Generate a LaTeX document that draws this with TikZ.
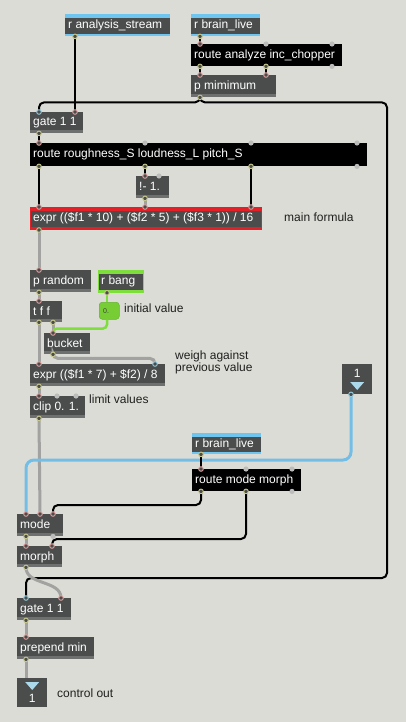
\documentclass[tikz,border=0pt]{standalone}
\usepackage{fontspec}
\setmainfont{Liberation Sans}
\usetikzlibrary{calc}
\definecolor{bg}{RGB}{220,220,214}
\definecolor{boxg}{RGB}{74,77,76}
\definecolor{strip}{RGB}{110,112,111}
\definecolor{rcvblue}{RGB}{110,198,240}
\definecolor{cordblue}{RGB}{115,190,230}
\definecolor{cordgrey}{RGB}{162,162,160}
\definecolor{lime}{RGB}{125,222,60}
\definecolor{numgreen}{RGB}{118,206,52}
\definecolor{exprred}{RGB}{226,32,40}
\definecolor{inpink}{RGB}{225,160,160}
\definecolor{outyel}{RGB}{200,200,140}
\definecolor{incyan}{RGB}{150,205,225}
\definecolor{dotgrey}{RGB}{188,188,188}
\definecolor{triblue}{RGB}{170,218,236}
\newcommand\mxobj[7]{\node[obj,minimum width=#4pt,minimum height=#5pt,#6] (#1) at (#2,#3) {};
  \node[objtxt] (#1-t) at ($(#1.west)+(3,-1)$) {#7};}
\newcommand\mxin[3]{\filldraw[fill=boxg,draw=#3,line width=0.9pt] ($(#1.north west)+(#2,0)$) circle (2.3pt);}
\newcommand\mxout[3]{\filldraw[fill=boxg,draw=#3,line width=0.9pt] ($(#1.south west)+(#2,0)$) circle (2.3pt);}
\newcommand\mxgin[2]{\fill[dotgrey] ($(#1.north west)+(#2,0)$) circle (2.6pt);}
\newcommand\mxgout[2]{\fill[dotgrey] ($(#1.south west)+(#2,0)$) circle (2.6pt);}
\begin{document}
\begin{tikzpicture}[x=1pt,y=-1pt,
  obj/.style={anchor=north west, fill=boxg, inner sep=0pt, draw=none,
    path picture={\fill[strip] ([yshift=3pt]path picture bounding box.south west) rectangle (path picture bounding box.south east);}},
  blackobj/.style={fill=black, path picture={}},
  rcv/.style={path picture={\fill[#1] (path picture bounding box.north west) rectangle ([yshift=-4pt]path picture bounding box.north east);
      \fill[#1] ([yshift=2pt]path picture bounding box.south west) rectangle (path picture bounding box.south east);}},
  redframe/.style={draw=exprred, line width=1pt, path picture={\fill[exprred] (path picture bounding box.north west) rectangle ([yshift=-3pt]path picture bounding box.north east);
      \fill[exprred] ([yshift=3pt]path picture bounding box.south west) rectangle (path picture bounding box.south east);}},
  objtxt/.style={anchor=west, inner sep=0pt, text=white, font=\fontsize{12}{14}\selectfont, text height=8.6pt, text depth=0pt},
  comment/.style={anchor=west, inner sep=0pt, text=black!88, font=\fontsize{12}{14}\selectfont, text height=8.6pt, text depth=0pt},
  blk/.style={draw=black, line width=2pt, rounded corners=5pt},
  gry/.style={draw=cordgrey, line width=3pt, rounded corners=5pt},
  blu/.style={draw=cordblue, line width=3pt, rounded corners=8pt},
  grn/.style={draw=lime, line width=2.5pt, rounded corners=4pt},
  iobox/.style={anchor=north west, fill=boxg, inner sep=0pt, minimum width=30pt, minimum height=30pt},
]
\fill[bg] (0,0) rectangle (406,722);
\useasboundingbox (0,0) rectangle (406,722);

% ---------- objects ----------
\mxobj{ras}{65}{14}{105}{22}{rcv=rcvblue}{r analysis\_stream}
\mxobj{rbl1}{191}{14}{69}{22}{rcv=rcvblue}{r brain\_live}
\mxobj{rai}{191}{44}{151}{22}{blackobj}{route analyze inc\_chopper}
\mxobj{pmin}{191}{75}{85}{22}{}{p mimimum}
\mxobj{gate1}{30}{112}{53}{21}{}{gate 1 1}
\mxobj{rrl}{30}{143}{337}{23}{blackobj}{route roughness\_S loudness\_L pitch\_S}
\mxobj{minus}{136}{176}{33}{22}{}{!- 1.}
\mxobj{expr1}{30}{207}{231}{22}{redframe}{expr ((\$f1 * 10) + (\$f2 * 5) + (\$f3 * 1)) / 16}
\mxobj{prand}{30}{270}{61}{22}{}{p random}
\mxobj{rbang}{98}{270}{45}{22}{rcv=lime,draw=lime,line width=0.8pt}{r bang}
\mxobj{tff}{30}{301}{32}{21}{}{t f f}
\node[anchor=north west, fill=numgreen, draw=lime!80!black, line width=0.5pt, rounded corners=3pt, minimum width=20pt, minimum height=17pt, inner sep=0pt] (num) at (99,302) {};
\node[anchor=west, inner sep=0pt, font=\fontsize{7}{8}\selectfont, text=black!75] (num-t) at ($(num.west)+(4,0)$) {0.};
\mxobj{bucket}{44}{333}{46}{21}{}{bucket}
\mxobj{expr2}{30}{364}{135}{22}{}{expr ((\$f1 * 7) + \$f2) / 8}
\mxobj{clip}{30}{396}{55}{22}{}{clip 0. 1.}
\node[iobox] (inl) at (342,364) {};
\node[inner sep=0pt, text=white, font=\fontsize{12}{14}\selectfont] (inl-t) at ($(inl.north)+(0,9)$) {1};
\fill[triblue] ($(inl.north)+(-7,18)$) -- ($(inl.north)+(7,18)$) -- ($(inl.north)+(0,26)$) -- cycle;
\mxobj{rbl2}{192}{433}{69}{21}{rcv=rcvblue}{r brain\_live}
\mxobj{rmm}{192}{469}{109}{22}{blackobj}{route mode morph}
\mxobj{mode}{17}{514}{46}{22}{}{mode}
\mxobj{morph}{17}{546}{45}{21}{}{morph}
\mxobj{gate2}{17}{598}{54}{22}{}{gate 1 1}
\mxobj{prep}{17}{637}{77}{22}{}{prepend min}
\node[iobox, minimum height=29pt] (outl) at (17,678) {};
\fill[triblue] ($(outl.north)+(-7,4)$) -- ($(outl.north)+(7,4)$) -- ($(outl.north)+(0,12)$) -- cycle;
\node[inner sep=0pt, text=white, font=\fontsize{12}{14}\selectfont] (outl-t) at ($(outl.north)+(0,20)$) {1};

% ---------- comments ----------
\node[comment] (c1) at (284,217) {main formula};
\node[comment] (c2) at (124,308) {initial value};
\node[comment] (c3a) at (175,355) {weigh against};
\node[comment] (c3b) at (175,367.5) {previous value};
\node[comment] (c4) at (89,399) {limit values};
\node[comment] (c5) at (57,693) {control out};

% ---------- cords ----------
\coordinate (rb) at (387,578);
\draw[blk] ($(ras.south west)+(10,0)$) -- ($(gate1.north west)+(45,0)$);
\draw[blk] ($(rbl1.south west)+(9,0)$) -- ($(rai.north west)+(9,0)$);
\draw[blk] ($(rai.south west)+(9,0)$) -- ($(pmin.north west)+(9,0)$);
\draw[blk] ($(rai.south west)+(75,0)$) -- ($(pmin.north west)+(75,0)$);
\draw[blk] ($(pmin.south west)+(9,0)$) -- ++(0,5) -| ($(gate1.north west)+(9,0)$);
\draw[blk] ($(pmin.south west)+(9,0)$) -- ++(0,5) -| (rb) -| ($(gate2.north west)+(9,0)$);
\draw[blk] ($(gate1.south west)+(9,0)$) -- ($(rrl.north west)+(9,0)$);
\draw[blk] ($(rrl.south west)+(9,0)$) -- ($(expr1.north west)+(9,0)$);
\draw[blk] ($(rrl.south west)+(115,0)$) -- ($(minus.north west)+(9,0)$);
\draw[blk] ($(rrl.south west)+(221,0)$) -- ($(expr1.north west)+(221,0)$);
\draw[gry] ($(minus.south west)+(9,0)$) -- ($(expr1.north west)+(115,0)$);
\draw[gry] ($(expr1.south west)+(9,0)$) -- ($(prand.north west)+(9,0)$);
\draw[gry] ($(prand.south west)+(9,0)$) -- ($(tff.north west)+(9,0)$);
\draw[grn] ($(rbang.south west)+(9,0)$) -- ($(num.north west)+(8,0)$);
\draw[gry] ($(tff.south west)+(23,0)$) -- ($(bucket.north west)+(9,0)$);
\draw[grn] ($(num.south west)+(8,0)$) -- ++(0,9) -| ($(bucket.north west)+(9,0)$);
\draw[gry] ($(tff.south west)+(9,0)$) -- ($(expr2.north west)+(9,0)$);
\draw[gry] ($(bucket.south west)+(9,0)$) -- ++(0,4) -| ($(expr2.north west)+(125,0)$);
\draw[gry] ($(expr2.south west)+(9,0)$) -- ($(clip.north west)+(9,0)$);
\draw[gry] ($(clip.south west)+(9,0)$) -- ($(mode.north west)+(23,0)$);
\draw[blu] ($(inl.south west)+(9,0)$) |- ($(mode.north west)+(9,-54)$) -- ($(mode.north west)+(9,0)$);
\draw[blk] ($(rbl2.south west)+(9,0)$) -- ($(rmm.north west)+(9,0)$);
\draw[blk] ($(rmm.south west)+(9,0)$) |- ($(mode.north west)+(36,-9)$) -- ($(mode.north west)+(36,0)$);
\draw[blk] ($(rmm.south west)+(54,0)$) |- ($(morph.north west)+(35,-7)$) -- ($(morph.north west)+(35,0)$);
\draw[gry] ($(mode.south west)+(9,0)$) -- ($(morph.north west)+(9,0)$);
\draw[gry] ($(morph.south west)+(9,0)$) .. controls +(0,18) and +(0,-18) .. ($(gate2.north west)+(44,0)$);
\draw[gry] ($(gate2.south west)+(9,0)$) -- ($(prep.north west)+(9,0)$);
\draw[gry] ($(prep.south west)+(9,0)$) -- ($(outl.north west)+(9,0)$);

% ---------- inlets / outlets ----------
\mxout{ras}{10}{outyel}
\mxout{rbl1}{9}{outyel}
\mxin{rai}{9}{inpink} \mxgin{rai}{75} \mxgin{rai}{141}
\mxout{rai}{9}{outyel} \mxout{rai}{75}{outyel} \mxgout{rai}{141}
\mxin{pmin}{9}{inpink} \mxin{pmin}{75}{inpink} \mxout{pmin}{9}{outyel}
\mxin{gate1}{9}{incyan} \mxin{gate1}{45}{inpink} \mxout{gate1}{9}{outyel}
\mxin{rrl}{9}{inpink} \mxgin{rrl}{115} \mxgin{rrl}{221} \mxgin{rrl}{327}
\mxout{rrl}{9}{outyel} \mxout{rrl}{115}{outyel} \mxout{rrl}{221}{outyel} \mxgout{rrl}{327}
\mxin{minus}{9}{inpink} \mxgin{minus}{23} \mxout{minus}{9}{outyel}
\mxin{expr1}{9}{inpink} \mxin{expr1}{115}{inpink} \mxin{expr1}{221}{inpink} \mxout{expr1}{9}{outyel}
\mxin{prand}{9}{inpink} \mxout{prand}{9}{outyel}
\mxout{rbang}{9}{outyel}
\mxin{tff}{9}{inpink} \mxout{tff}{9}{outyel} \mxout{tff}{23}{outyel}
\mxin{bucket}{9}{inpink} \mxout{bucket}{9}{outyel}
\mxin{expr2}{9}{inpink} \mxin{expr2}{125}{incyan} \mxout{expr2}{9}{outyel}
\mxin{clip}{9}{inpink} \mxgin{clip}{27} \mxgin{clip}{46} \mxout{clip}{9}{outyel}
\mxout{inl}{9}{incyan}
\mxout{rbl2}{9}{outyel}
\mxin{rmm}{9}{inpink} \mxgin{rmm}{54} \mxgin{rmm}{100}
\mxout{rmm}{9}{outyel} \mxout{rmm}{54}{outyel} \mxgout{rmm}{100}
\mxin{mode}{9}{inpink} \mxin{mode}{23}{inpink} \mxin{mode}{36}{inpink} \mxout{mode}{9}{outyel} \mxgout{mode}{36}
\mxin{morph}{9}{inpink} \mxin{morph}{35}{inpink} \mxout{morph}{9}{outyel}
\mxin{gate2}{9}{incyan} \mxin{gate2}{44}{inpink} \mxout{gate2}{9}{outyel}
\mxin{prep}{9}{inpink} \mxout{prep}{9}{outyel}
\end{tikzpicture}
\end{document}
